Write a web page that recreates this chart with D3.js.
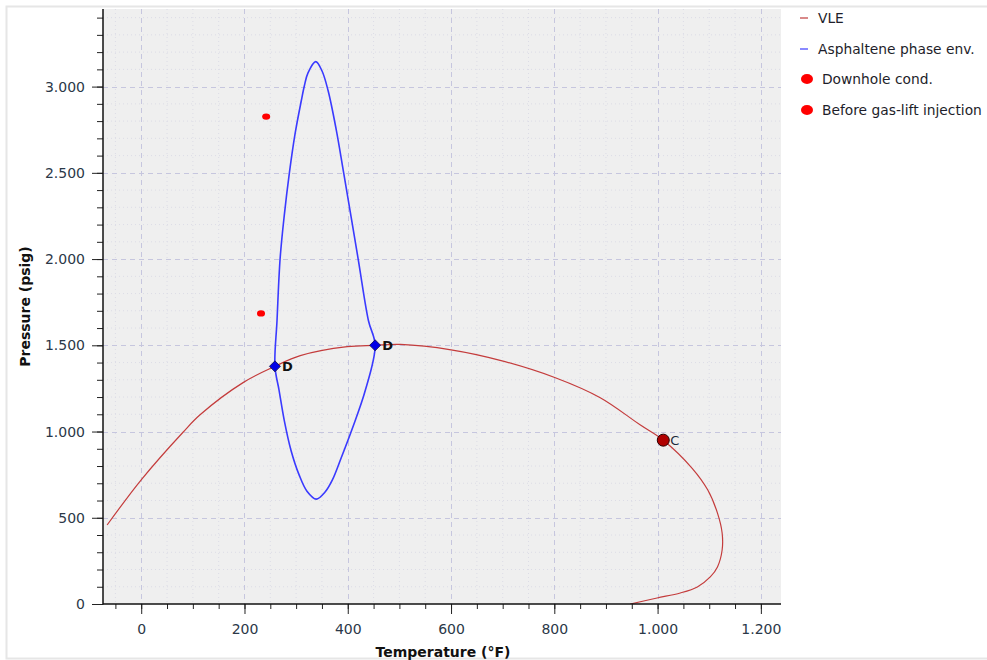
<!DOCTYPE html>
<html>
<head>
<meta charset="utf-8">
<script src="https://cdn.jsdelivr.net/npm/d3@7"></script>
<style>
  html, body { margin: 0; padding: 0; background: #fff; }
  svg { display: block; font-family: "DejaVu Sans", sans-serif; }
</style>
</head>
<body>
<script>
// ---------- data ----------
const vleT = [-66, 0, 81, 114, 198, 259, 308, 399, 451, 502, 600, 695, 802, 889, 966, 1011, 1067, 1097, 1116, 1125, 1125, 1116, 1102, 1077, 1044, 999, 947];
const vleP = [458, 720, 996, 1097, 1285, 1378, 1440, 1492, 1500, 1505, 1474, 1413, 1312, 1196, 1039, 950, 787, 662, 527, 412, 313, 215, 157, 99, 64, 35, 0];

const envT = [338, 323, 316, 310, 298, 287, 277, 269, 263, 259, 267, 277, 290, 306, 321, 339, 356, 370, 387, 409, 434, 453, 440, 420, 392, 378, 362, 350];
const envP = [3145, 3080, 3005, 2918, 2727, 2501, 2252, 2003, 1644, 1378, 1239, 1065, 892, 747, 654, 608, 649, 718, 845, 1019, 1239, 1500, 1644, 2003, 2501, 2745, 2976, 3092];

const pointNames = ["Downhole cond.", "Before gas-lift injection"];
const pointT = [242, 232];
const pointP = [2826, 1685];

const dLabels = ["D", "D"];
const dT = [259, 453];
const dP = [1378, 1500];

const cLabel = "C";
const cT = [1011];
const cP = [950];

const xMajorTicks = [0, 200, 400, 600, 800, 1000, 1200];
const yMajorTicks = [0, 500, 1000, 1500, 2000, 2500, 3000];
const xMinorTicks = [-50, 0, 50, 100, 150, 200, 250, 300, 350, 400, 450, 500, 550, 600, 650, 700, 750, 800, 850, 900, 950, 1000, 1050, 1100, 1150, 1200];
const yMinorTicks = [0, 100, 200, 300, 400, 500, 600, 700, 800, 900, 1000, 1100, 1200, 1300, 1400, 1500, 1600, 1700, 1800, 1900, 2000, 2100, 2200, 2300, 2400, 2500, 2600, 2700, 2800, 2900, 3000, 3100, 3200, 3300, 3400];

const legendNames = ["VLE", "Asphaltene phase env.", "Downhole cond.", "Before gas-lift injection"];

// ---------- layout ----------
const W = 987, H = 660;
const plot = { left: 103, right: 781, top: 9, bottom: 604 };

const svg = d3.select("body").append("svg").attr("width", W).attr("height", H);

// outer frame
svg.append("rect").attr("x", 6.5).attr("y", 6.5).attr("width", W + 10).attr("height", 652)
  .attr("fill", "none").attr("stroke", "#e6e6e6").attr("stroke-width", 2);

const x = d3.scaleLinear().domain([-74, 1239]).range([plot.left, plot.right]);
const y = d3.scaleLinear().domain([0, 3450]).range([plot.bottom, plot.top]);

const loc = d3.formatLocale({ decimal: ",", thousands: ".", grouping: [3], currency: ["", ""] });
const fmt = loc.format(",");

// plot background
svg.append("rect").attr("x", plot.left).attr("y", plot.top)
  .attr("width", plot.right - plot.left).attr("height", plot.bottom - plot.top)
  .attr("fill", "#efefef");

// minor grid
const grid = svg.append("g");
grid.selectAll("line.vmin").data(xMinorTicks.filter(t => !xMajorTicks.includes(t))).enter().append("line")
  .attr("x1", d => x(d)).attr("x2", d => x(d)).attr("y1", plot.top).attr("y2", plot.bottom)
  .attr("stroke", "#dcdce6").attr("stroke-width", 1).attr("stroke-dasharray", "1,3");
grid.selectAll("line.hmin").data(yMinorTicks.filter(t => !yMajorTicks.includes(t))).enter().append("line")
  .attr("x1", plot.left).attr("x2", plot.right).attr("y1", d => y(d)).attr("y2", d => y(d))
  .attr("stroke", "#dcdce6").attr("stroke-width", 1).attr("stroke-dasharray", "1,3");
// major grid
grid.selectAll("line.vmaj").data(xMajorTicks).enter().append("line")
  .attr("x1", d => Math.round(x(d)) + 0.5).attr("x2", d => Math.round(x(d)) + 0.5).attr("y1", plot.top).attr("y2", plot.bottom)
  .attr("stroke", "#c6c6de").attr("stroke-width", 1).attr("stroke-dasharray", "5,4");
grid.selectAll("line.hmaj").data(yMajorTicks.filter(t => t > 0)).enter().append("line")
  .attr("x1", plot.left).attr("x2", plot.right).attr("y1", d => Math.round(y(d)) + 0.5).attr("y2", d => Math.round(y(d)) + 0.5)
  .attr("stroke", "#c6c6de").attr("stroke-width", 1).attr("stroke-dasharray", "5,4");

// clip
svg.append("clipPath").attr("id", "clip").append("rect")
  .attr("x", plot.left).attr("y", plot.top).attr("width", plot.right - plot.left).attr("height", plot.bottom - plot.top);
const g = svg.append("g").attr("clip-path", "url(#clip)");

// VLE curve
const vleData = vleT.map((t, i) => [t, vleP[i]]);
g.append("path").datum(vleData)
  .attr("d", d3.line().x(d => x(d[0])).y(d => y(d[1])).curve(d3.curveCatmullRom.alpha(0.5)))
  .attr("fill", "none").attr("stroke", "#c43c3c").attr("stroke-width", 1.2);

// asphaltene envelope
const envData = envT.map((t, i) => [t, envP[i]]);
g.append("path").datum(envData)
  .attr("d", d3.line().x(d => x(d[0])).y(d => y(d[1])).curve(d3.curveCatmullRomClosed.alpha(0.5)))
  .attr("fill", "none").attr("stroke", "#3a3aff").attr("stroke-width", 1.6);

// red points
g.selectAll("ellipse.pt").data(pointT.map((t, i) => [t, pointP[i]])).enter().append("ellipse")
  .attr("cx", d => x(d[0])).attr("cy", d => y(d[1])).attr("rx", 4).attr("ry", 3.2)
  .attr("fill", "#ff0000");

// D markers
const dData = dT.map((t, i) => [t, dP[i], dLabels[i]]);
g.selectAll("path.d").data(dData).enter().append("path")
  .attr("d", d => { const cx = x(d[0]), cy = y(d[1]), s = 5.5; return `M${cx},${cy - s}L${cx + s},${cy}L${cx},${cy + s}L${cx - s},${cy}Z`; })
  .attr("fill", "#0000e6").attr("stroke", "#10104a").attr("stroke-width", 0.8);
svg.selectAll("text.dl").data(dData).enter().append("text")
  .attr("x", d => x(d[0]) + 7).attr("y", d => y(d[1]) + 5)
  .attr("font-size", 13).attr("font-weight", "bold").attr("fill", "#111").text(d => d[2]);

// C marker
const cData = cT.map((t, i) => [t, cP[i]]);
g.selectAll("circle.c").data(cData).enter().append("circle")
  .attr("cx", d => x(d[0])).attr("cy", d => y(d[1])).attr("r", 6)
  .attr("fill", "#b00000").attr("stroke", "#2a0000").attr("stroke-width", 1);
svg.selectAll("text.cl").data(cData).enter().append("text")
  .attr("x", d => x(d[0]) + 7).attr("y", d => y(d[1]) + 5)
  .attr("font-size", 13).attr("fill", "#1a2a3a").text(cLabel);

// axes
const tickColor = "#2b3848";
const yMinor = d3.axisLeft(y).tickValues(yMinorTicks).tickSize(6).tickFormat("");
const yMajor = d3.axisLeft(y).tickValues(yMajorTicks).tickSize(11).tickPadding(7).tickFormat(fmt);
const xMinor = d3.axisBottom(x).tickValues(xMinorTicks).tickSize(5).tickFormat("");
const xMajor = d3.axisBottom(x).tickValues(xMajorTicks).tickSize(10).tickPadding(10).tickFormat(fmt);

function styleAxis(sel) {
  sel.select(".domain").remove();
  sel.selectAll("line").attr("stroke", "#222");
  sel.selectAll("text").attr("fill", tickColor).attr("font-size", 14)
    .attr("font-family", "'DejaVu Sans', sans-serif");
}
svg.append("g").attr("transform", `translate(${plot.left},0)`).call(yMinor).call(styleAxis);
svg.append("g").attr("transform", `translate(${plot.left},0)`).call(yMajor).call(styleAxis);
svg.append("g").attr("transform", `translate(0,${plot.bottom})`).call(xMinor).call(styleAxis);
svg.append("g").attr("transform", `translate(0,${plot.bottom})`).call(xMajor).call(styleAxis);

svg.append("line").attr("x1", plot.left).attr("x2", plot.left).attr("y1", plot.top).attr("y2", plot.bottom + 0.5)
  .attr("stroke", "#111").attr("stroke-width", 1.5);
svg.append("line").attr("x1", plot.left).attr("x2", plot.right).attr("y1", plot.bottom).attr("y2", plot.bottom)
  .attr("stroke", "#111").attr("stroke-width", 1.5);

// axis titles
svg.append("text").attr("x", 443).attr("y", 657)
  .attr("text-anchor", "middle").attr("font-size", 14).attr("font-weight", "bold").attr("fill", "#111")
  .text("Temperature (°F)");
svg.append("text").attr("transform", `translate(30,${(plot.top + plot.bottom) / 2}) rotate(-90)`)
  .attr("text-anchor", "middle").attr("font-size", 14).attr("font-weight", "bold").attr("fill", "#111")
  .text("Pressure (psig)");

// legend
const legY = [18, 49, 79, 110];
const leg = svg.append("g");
legendNames.forEach((name, i) => {
  const yy = legY[i];
  if (i === 0 || i === 1) {
    leg.append("line").attr("x1", 800).attr("x2", 808).attr("y1", yy).attr("y2", yy)
      .attr("stroke", i === 0 ? "#d98a8a" : "#8a8aff").attr("stroke-width", 2);
    leg.append("text").attr("x", 818).attr("y", yy + 5).attr("font-size", 13.8).attr("fill", "#1e1e2a").text(name);
  } else {
    leg.append("ellipse").attr("cx", 807).attr("cy", yy).attr("rx", 6).attr("ry", 5).attr("fill", "#ff0000");
    leg.append("text").attr("x", 822).attr("y", yy + 5).attr("font-size", 13.8).attr("fill", "#1e1e2a").text(name);
  }
});
</script>
</body>
</html>
